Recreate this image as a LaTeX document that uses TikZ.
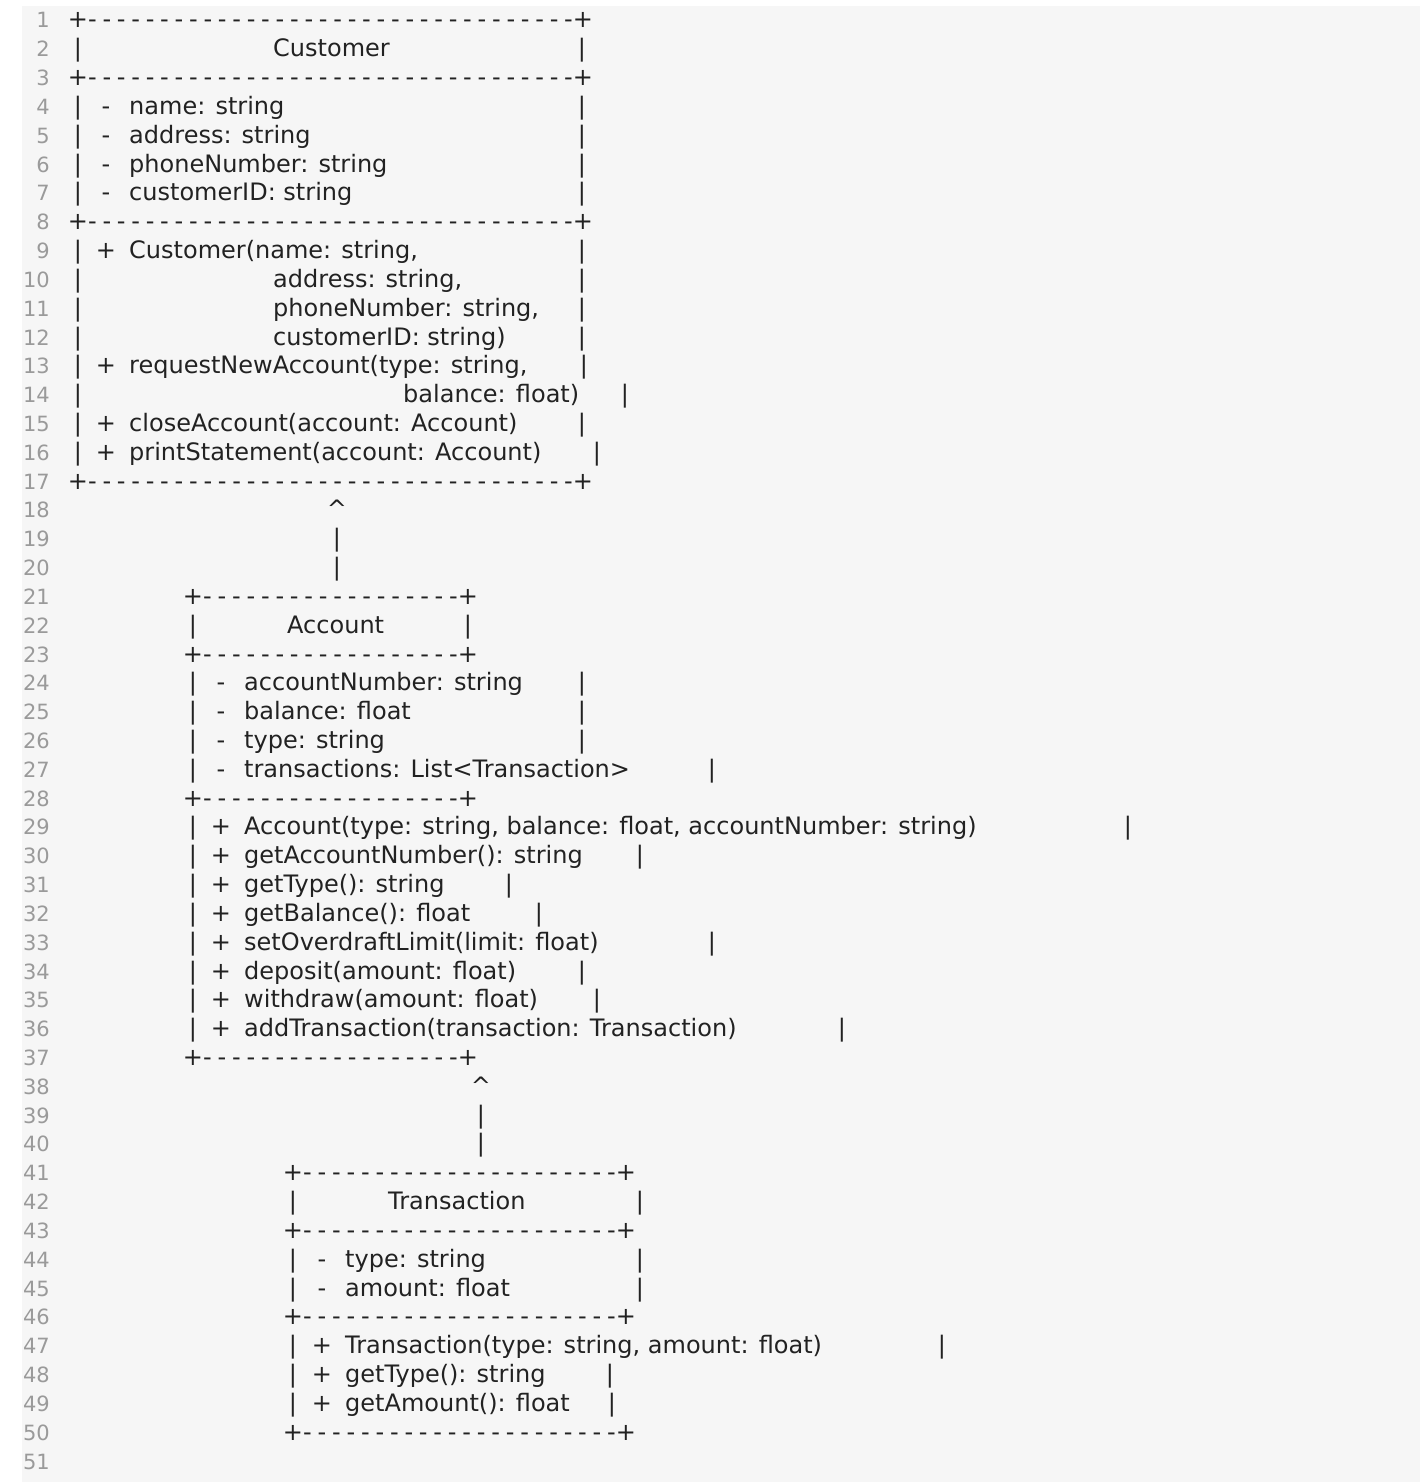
\documentclass[tikz,border=0pt]{standalone}
\usepackage{fontspec}
\setmainfont{DejaVu Sans}
\newcommand\fs{\fontsize{24}{28}\selectfont}
\definecolor{bgc}{HTML}{F6F6F6}
\definecolor{numc}{HTML}{9A9A9A}
\definecolor{txt}{HTML}{222222}
\tikzset{t/.style={anchor=base west,inner sep=0,font=\fs,text=txt},
 c/.style={anchor=base,inner sep=0,font=\fs,text=txt},
 num/.style={anchor=base east,inner sep=0,font=\fontsize{21}{24}\selectfont,text=numc}}
\newcommand\T[3]{\node[t] at ({#2},{20+(#1-1)*28.82+8}) {#3};}
\newcommand\C[3]{\node[c] at ({#2},{20+(#1-1)*28.82+8}) {#3};}
\newcommand\D[4]{\C{#1}{#2}{+}\C{#1}{#3}{+}%
 \foreach \k in {1,...,#4}{\C{#1}{#2+\k/(#4+1)*(#3-#2)}{-}}}
\begin{document}
\begin{tikzpicture}[x=1pt,y=-1pt]
\useasboundingbox (0,0) rectangle (1420,1482);
\fill[bgc] (22,6) rectangle (1420,1482);
\foreach \n in {1,...,51}{\node[num] at (50,{20+(\n-1)*28.82+8}) {\n};}
% Customer
\D{1}{78}{583}{34}
\C{2}{78}{|}\T{2}{273}{Customer}\C{2}{582}{|}
\D{3}{78}{583}{34}
\foreach \r/\s in {4/name: string,5/address: string,6/phoneNumber: string,7/customerID: string}{
 \C{\r}{78}{|}\C{\r}{106}{-}\T{\r}{129}{\s}\C{\r}{582}{|}}
\D{8}{78}{583}{34}
\C{9}{78}{|}\C{9}{106}{+}\T{9}{129}{Customer(name: string,}\C{9}{582}{|}
\C{10}{78}{|}\T{10}{273}{address: string,}\C{10}{582}{|}
\C{11}{78}{|}\T{11}{273}{phoneNumber: string,}\C{11}{582}{|}
\C{12}{78}{|}\T{12}{273}{customerID: string)}\C{12}{582}{|}
\C{13}{78}{|}\C{13}{106}{+}\T{13}{129}{requestNewAccount(type: string,}\C{13}{584}{|}
\C{14}{78}{|}\T{14}{403}{balance: float)}\C{14}{625}{|}
\C{15}{78}{|}\C{15}{106}{+}\T{15}{129}{closeAccount(account: Account)}\C{15}{582}{|}
\C{16}{78}{|}\C{16}{106}{+}\T{16}{129}{printStatement(account: Account)}\C{16}{597}{|}
\D{17}{78}{583}{34}
\C{18}{337}{\textasciicircum}\C{19}{337}{|}\C{20}{337}{|}
% Account
\D{21}{193}{468}{18}
\C{22}{193}{|}\T{22}{287}{Account}\C{22}{468}{|}
\D{23}{193}{468}{18}
\foreach \r/\s/\e in {24/accountNumber: string/582,25/balance: float/582,26/type: string/582,27/transactions: List<Transaction>/712}{
 \C{\r}{193}{|}\C{\r}{221}{-}\T{\r}{244}{\s}\C{\r}{\e}{|}}
\D{28}{193}{468}{18}
\foreach \r/\s/\e in {29/{Account(type: string, balance: float, accountNumber: string)}/1128,
 30/getAccountNumber(): string/640,31/getType(): string/509,32/getBalance(): float/539,
 33/setOverdraftLimit(limit: float)/712,34/deposit(amount: float)/582,35/withdraw(amount: float)/597,
 36/addTransaction(transaction: Transaction)/842}{
 \C{\r}{193}{|}\C{\r}{221}{+}\T{\r}{244}{\s}\C{\r}{\e}{|}}
\D{37}{193}{468}{18}
\C{38}{481}{\textasciicircum}\C{39}{481}{|}\C{40}{481}{|}
% Transaction
\D{41}{293}{626}{22}
\C{42}{293}{|}\T{42}{388}{Transaction}\C{42}{640}{|}
\D{43}{293}{626}{22}
\foreach \r/\s in {44/type: string,45/amount: float}{
 \C{\r}{293}{|}\C{\r}{322}{-}\T{\r}{345}{\s}\C{\r}{640}{|}}
\D{46}{293}{626}{22}
\foreach \r/\s/\e in {47/{Transaction(type: string, amount: float)}/942,48/getType(): string/610,49/getAmount(): float/612}{
 \C{\r}{293}{|}\C{\r}{322}{+}\T{\r}{345}{\s}\C{\r}{\e}{|}}
\D{50}{293}{626}{22}
\end{tikzpicture}
\end{document}
